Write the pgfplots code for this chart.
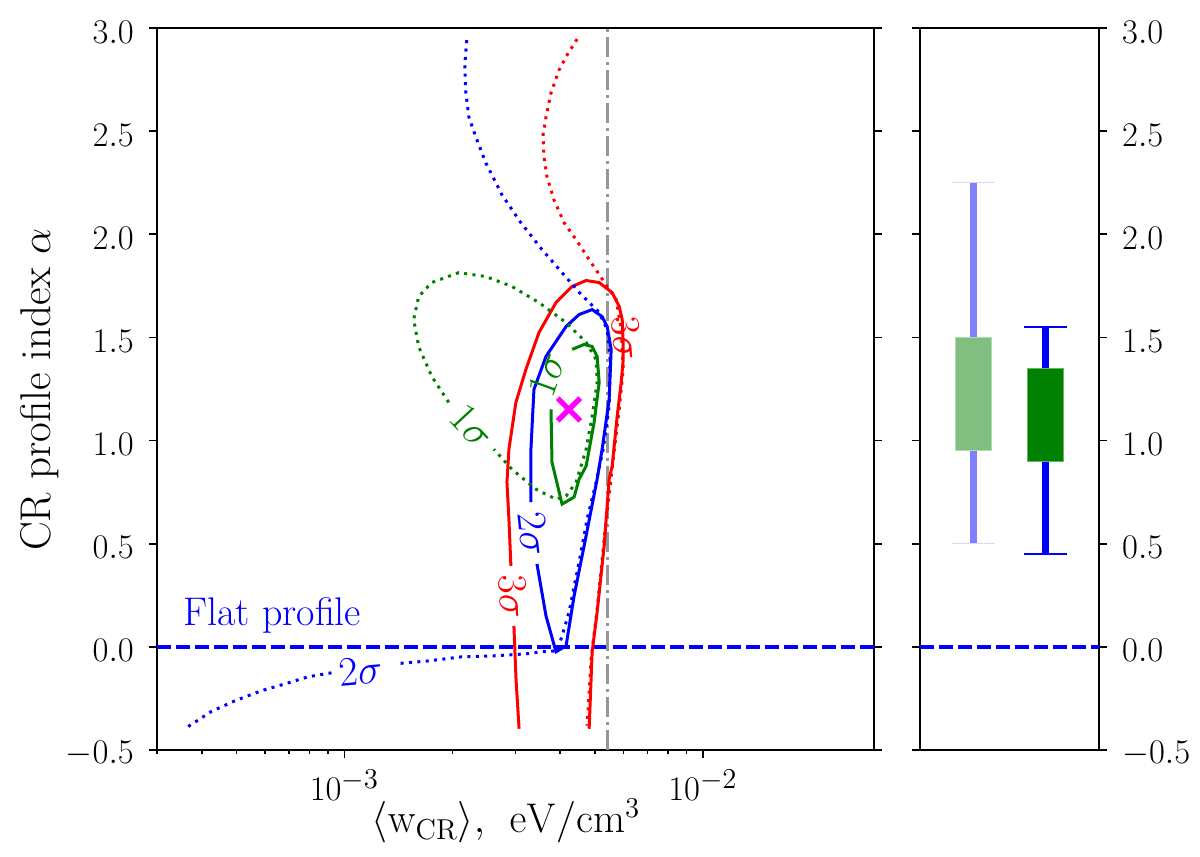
\documentclass[border=0pt]{standalone}
\usepackage{pgfplots}
\pgfplotsset{compat=1.18}
\definecolor{mpgreen}{RGB}{0,128,0}
\definecolor{mpmagenta}{RGB}{255,0,255}
\definecolor{lightgreen}{RGB}{128,191,128}
\definecolor{lightblue}{RGB}{128,128,255}
\definecolor{capblue}{RGB}{215,215,255}
\definecolor{vgray}{RGB}{150,150,150}
\pgfplotsset{
  panel/.style={
    scale only axis, height=361pt, ymin=-0.5, ymax=3,
    ytick={-0.5,0,...,3},
    axis line style={line width=0.9pt},
    tick align=outside, major tick length=3.9pt, minor tick length=2.2pt,
    tick style={black, line width=0.8pt},
    tick label style={font=\fontsize{17.5}{20}\selectfont},
    yticklabel style={/pgf/number format/fixed, /pgf/number format/fixed zerofill, /pgf/number format/precision=1},
  },
  solidline/.style={line width=1.5pt},
  dotline/.style={line width=1.5pt, dash pattern=on 1.5pt off 2.7pt},
  flatline/.style={blue, line width=1.7pt, dash pattern=on 7pt off 2.5pt},
}
\begin{document}
\begin{tikzpicture}
\path[use as bounding box] (0pt,0pt) rectangle (600pt,428.5pt);

% main panel
\begin{axis}[panel,
  at={(78.5pt,53.5pt)}, anchor=south west, width=358.5pt,
  xmode=log, xmin=3e-4, xmax=3e-2,
  xtick pos=bottom, ytick pos=both, yticklabel pos=left,
  xticklabel style={font=\fontsize{19}{22}\selectfont, anchor=base, inner sep=0pt, yshift=-21.5pt},
  yticklabel style={anchor=east, inner sep=0pt, xshift=-7.5pt, yshift=-2pt},
]
% flat profile
\addplot[flatline] coordinates {(3e-4,0) (3e-2,0)};
% upper limit on w_CR
\addplot[vgray, line width=1.5pt, dash pattern=on 10pt off 2.5pt on 1.5pt off 2.5pt] coordinates {(5.43e-3,-0.5) (5.43e-3,3)};

% 3 sigma, red
\addplot[red, solidline] coordinates {(3.07e-3,-0.397) (3.01e-3,-0.155) (2.97e-3,0.102)};
\addplot[red, solidline] coordinates {(2.913e-3,0.392) (2.876e-3,0.619) (2.840e-3,0.798) (2.876e-3,0.958) (3.008e-3,1.185) (3.208e-3,1.345) (3.489e-3,1.524) (3.892e-3,1.669) (4.315e-3,1.747) (4.722e-3,1.776) (5.135e-3,1.766) (5.583e-3,1.717) (5.840e-3,1.650) (5.954e-3,1.587) (5.993e-3,1.470) (5.993e-3,1.393) (5.916e-3,1.282) (5.765e-3,1.118) (5.583e-3,0.876) (5.476e-3,0.813) (5.302e-3,0.489) (5.069e-3,0.169) (4.909e-3,-0.024) (4.815e-3,-0.397)};
\addplot[red, dotline] coordinates {(4.457e-3,2.946) (4.178e-3,2.869) (3.968e-3,2.796) (3.769e-3,2.685) (3.650e-3,2.569) (3.580e-3,2.482) (3.603e-3,2.375) (3.673e-3,2.279) (3.842e-3,2.167) (4.099e-3,2.056) (4.428e-3,1.974) (4.815e-3,1.877) (5.135e-3,1.805) (5.476e-3,1.732) (5.728e-3,1.684) (5.916e-3,1.538) (5.993e-3,1.345) (5.840e-3,1.151) (5.619e-3,0.910) (5.337e-3,0.571) (5.069e-3,0.184) (4.877e-3,-0.058) (4.753e-3,-0.382)};

% 2 sigma, blue
\addplot[blue, solidline] coordinates {(3.444e-3,0.402) (3.650e-3,0.150) (3.892e-3,-0.024) (4.152e-3,0.005) (4.371e-3,0.247) (4.662e-3,0.489) (5.069e-3,0.813) (5.234e-3,0.958) (5.476e-3,1.200) (5.546e-3,1.442) (5.405e-3,1.553) (5.234e-3,1.601) (4.909e-3,1.635) (4.514e-3,1.611) (4.152e-3,1.553) (3.650e-3,1.408) (3.378e-3,1.248) (3.313e-3,0.958) (3.313e-3,0.701)};
\addplot[blue, dotline] coordinates {(2.194e-3,2.941) (2.166e-3,2.821) (2.180e-3,2.690) (2.223e-3,2.569) (2.325e-3,2.472) (2.480e-3,2.346) (2.749e-3,2.192) (3.107e-3,2.056) (3.557e-3,1.926) (4.046e-3,1.814) (4.573e-3,1.708) (4.722e-3,1.684) (5.135e-3,1.621) (5.405e-3,1.538) (5.510e-3,1.393) (5.476e-3,1.166) (5.268e-3,0.958) (5.036e-3,0.798) (4.753e-3,0.619) (4.514e-3,0.411) (4.233e-3,0.169) (4.046e-3,0.053) (3.917e-3,-0.019) (3.557e-3,-0.024) (3.208e-3,-0.034) (2.577e-3,-0.044) (2.125e-3,-0.048) (1.718e-3,-0.068) (1.389e-3,-0.082)};
\addplot[blue, dotline] coordinates {(9.20e-4,-0.126) (7.93e-4,-0.145) (6.84e-4,-0.179) (5.86e-4,-0.213) (4.955e-4,-0.261) (4.246e-4,-0.314) (3.662e-4,-0.387)};

% 1 sigma, green
\addplot[mpgreen, solidline] coordinates {(4.315e-3,1.442) (4.662e-3,1.466) (4.909e-3,1.456) (5.069e-3,1.408) (5.135e-3,1.282) (4.972e-3,1.089) (4.722e-3,0.876) (4.514e-3,0.813) (4.371e-3,0.726) (4.046e-3,0.692) (3.793e-3,0.895) (3.769e-3,1.151)};
\addplot[mpgreen, dotline] coordinates {(1.954e-3,1.185) (1.752e-3,1.311) (1.611e-3,1.456) (1.560e-3,1.587) (1.611e-3,1.698) (1.752e-3,1.766) (2.084e-3,1.814) (2.480e-3,1.795) (2.932e-3,1.747) (3.489e-3,1.669) (4.152e-3,1.572) (4.722e-3,1.476) (5.036e-3,1.393) (5.069e-3,1.282) (4.909e-3,1.118) (4.722e-3,0.958) (4.428e-3,0.798) (4.152e-3,0.731) (3.892e-3,0.716) (3.422e-3,0.764) (2.932e-3,0.861) (2.611e-3,0.958)};

% best fit
\addplot[only marks, mark=x, mark size=8pt, mpmagenta, line width=2.6pt] coordinates {(4.23e-3,1.151)};

% contour labels
\begin{scope}[font=\fontsize{20}{24}\selectfont, inner sep=0pt]
\node[red, rotate=-87] at (axis cs:2.95e-3,0.242) {$3\sigma$};
\node[red, rotate=-85] at (axis cs:6.11e-3,1.495) {$3\sigma$};
\node[blue, rotate=-84] at (axis cs:3.357e-3,0.547) {$2\sigma$};
\node[blue, rotate=5] at (axis cs:1.109e-3,-0.116) {$2\sigma$};
\node[mpgreen, rotate=-47] at (axis cs:2.266e-3,1.069) {$1\sigma$};
\node[mpgreen, rotate=70] at (axis cs:3.673e-3,1.321) {$1\sigma$};
\node[blue, anchor=base west] at (axis cs:3.546e-4,0.102) {Flat profile};
\end{scope}
\end{axis}

% side panel
\begin{axis}[panel,
  at={(460pt,53.5pt)}, anchor=south west, width=89.5pt,
  xmin=0, xmax=1, xtick=\empty,
  ytick pos=both, yticklabel pos=right,
  yticklabel style={anchor=west, inner sep=0pt, xshift=7.5pt, yshift=-2pt},
]
\addplot[flatline] coordinates {(0,0) (1,0)};
% light box
\addplot[lightblue, line width=3.3pt] coordinates {(0.3,0.5) (0.3,2.25)};
\addplot[capblue, line width=0.7pt] coordinates {(0.18,0.5) (0.42,0.5)};
\addplot[capblue, line width=0.7pt] coordinates {(0.18,2.25) (0.42,2.25)};
\addplot[fill=lightgreen, draw=lightgreen!60!white, line width=0.5pt] coordinates {(0.2,0.95) (0.4,0.95) (0.4,1.5) (0.2,1.5) (0.2,0.95)};
% dark box
\addplot[blue, line width=3.3pt] coordinates {(0.7,0.45) (0.7,1.55)};
\addplot[blue, line width=1.3pt] coordinates {(0.58,0.45) (0.82,0.45)};
\addplot[blue, line width=1.3pt] coordinates {(0.58,1.55) (0.82,1.55)};
\addplot[fill=mpgreen, draw=mpgreen!60!white, line width=0.5pt] coordinates {(0.6,0.9) (0.8,0.9) (0.8,1.35) (0.6,1.35) (0.6,0.9)};
\end{axis}

% axis titles
\node[anchor=base, inner sep=0pt, font=\fontsize{21.5}{25}\selectfont] at (253pt,12pt)
  {$\langle \mathrm{w}_{\mathrm{CR}}\rangle,\ \mkern2mu\mathrm{eV/cm^3}$};
\node[anchor=base, rotate=90, inner sep=0pt, font=\fontsize{21.5}{25}\selectfont] at (25pt,233.75pt)
  {CR profile index $\alpha$};
\end{tikzpicture}
\end{document}
